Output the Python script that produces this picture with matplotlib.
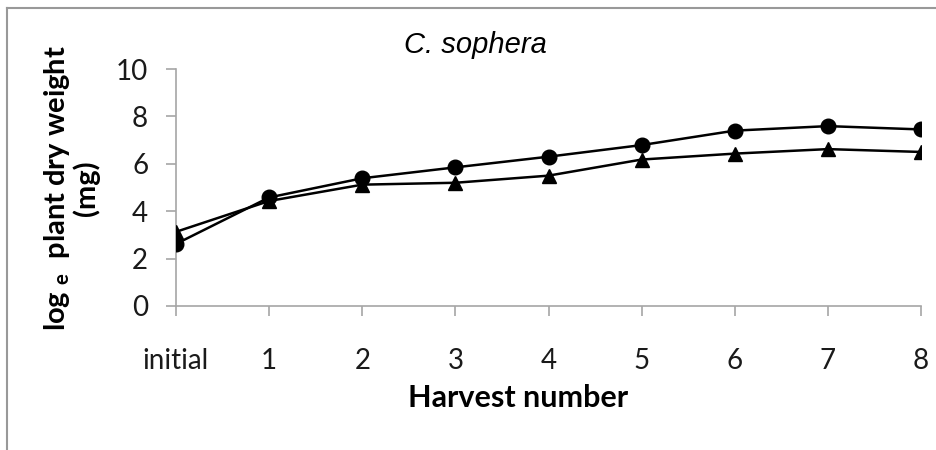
import matplotlib
matplotlib.use('Agg')
import matplotlib.pyplot as plt
from matplotlib.lines import Line2D

# Harvest data (log_e plant dry weight, mg)
harvest_labels = ['initial', '1', '2', '3', '4', '5', '6', '7', '8']
circle_series = [2.62, 4.58, 5.39, 5.85, 6.30, 6.79, 7.40, 7.59, 7.45]
triangle_series = [3.13, 4.43, 5.12, 5.20, 5.50, 6.18, 6.43, 6.62, 6.50]
y_ticks = [0, 2, 4, 6, 8, 10]

plt.rcParams['font.family'] = ['Lato', 'DejaVu Sans']
plt.rcParams['mathtext.fontset'] = 'custom'
plt.rcParams['mathtext.rm'] = 'Lato'
plt.rcParams['mathtext.bf'] = 'Lato:bold'

fig = plt.figure(figsize=(9.36, 4.5), dpi=100)
ax = fig.add_axes([176 / 936, 1 - 306 / 450, (921 - 176) / 936, (306 - 69) / 450])

x = list(range(len(harvest_labels)))
ax.plot(x, circle_series, color='black', lw=1.8, marker='o', markersize=10.5, zorder=3)
ax.plot(x, triangle_series, color='black', lw=1.8, marker='^', markersize=10.5, zorder=3)

ax.set_xlim(0, 8)
ax.set_ylim(0, 10)
ax.set_yticks(y_ticks)
ax.set_xticks(x)
ax.set_xticklabels(harvest_labels)

grey = '#a6a6a6'
for side in ['top', 'right']:
    ax.spines[side].set_visible(False)
for side in ['left', 'bottom']:
    ax.spines[side].set_color(grey)
    ax.spines[side].set_linewidth(1.2)
    ax.spines[side].set_clip_on(False)
ax.tick_params(axis='both', direction='out', length=7, width=1.2, color=grey,
               labelcolor='#1a1a1a')
ax.tick_params(axis='y', pad=13, labelsize=20)
ax.tick_params(axis='x', pad=23, labelsize=20)

ax.set_xlabel('Harvest number', fontsize=22, fontweight='bold')
ax.xaxis.set_label_coords((518 - 176) / (921 - 176), -(398 - 306) / (306 - 69))
ax.xaxis.label.set_va('center')

# two-line rotated y label with subscript e
fig.text(71 / 936, 1 - 188 / 450, 'log $_{\\mathbf{e}}$  plant dry weight\n(mg)',
         rotation=90, ha='center', va='center', fontsize=21, fontweight='bold',
         linespacing=1.05, multialignment='center')

fig.text(475 / 936, 1 - 45 / 450, 'C. sophera', ha='center', va='center',
         fontsize=21, style='italic', family='Liberation Sans')

# light frame around the chart (top and left edges)
fig.add_artist(Line2D([7 / 936, 1], [1 - 8 / 450, 1 - 8 / 450],
                      transform=fig.transFigure, color='#999999', lw=1.5))
fig.add_artist(Line2D([7 / 936, 7 / 936], [0, 1 - 8 / 450],
                      transform=fig.transFigure, color='#999999', lw=1.5))

fig.savefig('out.png', dpi=100)
